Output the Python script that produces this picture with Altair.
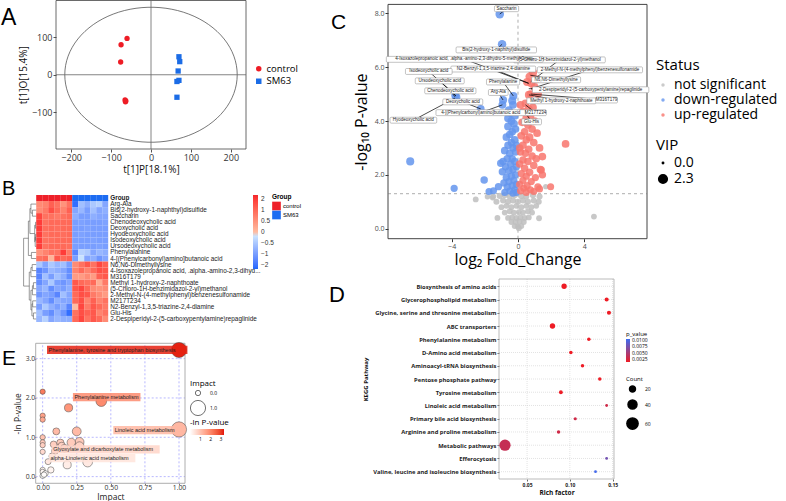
import altair as alt
import pandas as pd

FONT = "Open Sans"
ARIAL = "Liberation Sans"
W, H = 786, 501

# ======================= A: OPLS-DA scores =======================
a_group = ["control"] * 6 + ["SM63"] * 6
a_t1p = [-60, -75, -76, -65, -64, -63, 70, 72, 68, 70, 65, 65]
a_t1o = [97, 80, 34, -67, -72, -70, 48, 35, 10, -15, -18, -60]
a_ellipse = [216, 180]  # semi-axes of the T2 ellipse

# ======================= B: heatmap =======================
b_rows = [
    "Arg-Ala", "Bis(2-hydroxy-1-naphthyl)disulfide", "Saccharin", "Chenodeoxycholic acid",
    "Deoxycholic acid", "Hyodeoxycholic acid", "Isodeoxycholic acid", "Ursodeoxycholic acid",
    "Phenylalanine", "4-[(Phenylcarbonyl)amino]butanoic acid", "N6,N6-Dimethyllysine",
    "4-Isoxazolepropanoic acid, .alpha.-amino-2,3-dihyd...", "M316T179",
    "Methyl 1-hydroxy-2-naphthoate", "(5-Chloro-1H-benzimidazol-2-yl)methanol",
    "2-Methyl-N-(4-methylphenyl)benzenesulfonamide", "M217T234",
    "N2-Benzyl-1,3,5-triazine-2,4-diamine", "Glu-His",
    "2-Despiperidyl-2-(5-carboxypentylamine)repaglinide",
]
b_control = [
    [0.6, 0.7, 1.1, 0.9, 0.5, 0.9], [0.6, 0.8, 1.3, 1.0, 0.7, 1.1], [1.4, 0.9, 0.9, 0.8, 0.9, 1.0],
    [1.5, 0.9, 1.0, 1.0, 1.0, 1.0], [1.5, 0.95, 1.0, 0.95, 1.0, 1.0], [1.5, 0.9, 1.0, 1.0, 0.95, 1.0],
    [1.5, 0.9, 0.95, 1.0, 1.0, 1.0], [1.5, 0.9, 1.0, 1.0, 1.0, 0.95], [0.5, 0.7, 0.9, 0.9, 1.5, 0.8],
    [0.9, 1.0, 0.1, 1.2, 1.0, 1.1], [-0.5, -0.9, -0.5, -0.7, -0.6, -1.0], [-1.3, -1.1, -0.7, -0.8, -0.9, -1.2],
    [-1.3, -0.6, -1.0, -0.6, -0.8, -1.2], [-1.2, -0.9, -0.5, -1.0, -1.1, -0.9], [-0.9, -0.7, -1.2, -0.9, -1.0, -0.8],
    [-1.1, -0.9, -1.0, -1.3, -0.6, -0.9], [-0.7, -0.9, -1.2, -0.8, -0.9, -0.9], [-1.0, -0.5, -0.8, -1.0, -0.8, -1.3],
    [-0.6, -1.0, -1.2, -0.8, -1.1, -1.6], [-0.7, -0.4, -0.9, -0.7, -0.8, -0.8],
]
b_sm63 = [
    [-1.6, -0.6, -0.8, -0.5, -0.4, -0.9], [-0.9, -0.7, -1.0, -0.6, -0.9, -0.8], [-0.8, -1.0, -1.0, -0.8, -0.9, -0.9],
    [-1.0, -0.95, -1.0, -1.0, -1.0, -0.95], [-1.0, -1.0, -0.95, -1.0, -1.0, -1.0], [-1.0, -0.95, -1.0, -1.0, -1.0, -1.0],
    [-1.0, -1.0, -1.0, -0.95, -1.0, -1.0], [-1.0, -1.0, -1.0, -1.0, -0.95, -1.0], [-1.3, -0.4, -0.5, -0.9, -0.7, -0.8],
    [-1.0, -0.2, -0.9, -0.8, -1.1, -0.9], [0.6, 0.9, 1.2, 0.9, 1.4, 1.1], [0.7, 1.0, 0.7, 1.0, 1.3, 1.2],
    [0.4, 0.4, 0.6, 0.4, 1.1, 1.2], [1.2, 1.0, 0.9, 1.0, 0.2, 0.8], [1.2, 1.4, 1.0, 0.6, 0.5, 0.6],
    [1.0, 1.3, 1.2, 0.8, 0.6, 0.4], [1.0, 1.3, 0.7, 1.1, 0.7, 0.9], [0.0, 1.4, 0.8, 1.2, 1.0, 0.8],
    [0.9, 1.3, 1.1, 1.2, 0.7, 0.9], [1.0, 1.4, 0.9, 1.2, 1.0, 0.6],
]
# row dendrogram: (child a, child b, height); leaves 0..19, merges numbered from 20
b_merges = [
    (3, 4, 0.05), (5, 6, 0.05), (7, 21, 0.08), (20, 22, 0.12), (1, 2, 0.30), (0, 24, 0.42),
    (25, 23, 0.50), (8, 9, 0.38), (26, 27, 0.62), (10, 11, 0.32), (29, 12, 0.42), (13, 14, 0.22),
    (31, 15, 0.30), (16, 17, 0.28), (18, 19, 0.22), (33, 34, 0.34), (32, 35, 0.42), (30, 36, 0.55),
    (28, 37, 1.00),
]

# ======================= C: volcano =======================
c_ns = [
    (-1.50, 1.20, 1.1), (-1.10, 1.22, 1.1), (-0.80, 1.25, 1.2), (-0.50, 1.20, 1.1), (-0.20, 1.25, 1.2),
    (0.20, 1.22, 1.2), (0.50, 1.20, 1.1), (0.90, 1.25, 1.2), (1.30, 1.20, 1.1), (-1.30, 1.00, 1.1),
    (-0.90, 1.05, 1.1), (-0.60, 1.00, 1.1), (-0.30, 1.05, 1.1), (0.00, 1.00, 1.1), (0.30, 1.05, 1.1),
    (0.60, 1.00, 1.1), (0.95, 1.05, 1.1), (1.25, 1.00, 1.1), (-1.00, 0.80, 1.0), (-0.70, 0.85, 1.0),
    (-0.40, 0.80, 1.0), (-0.10, 0.85, 1.0), (0.20, 0.80, 1.0), (0.50, 0.85, 1.0), (0.80, 0.80, 1.0),
    (1.10, 0.85, 1.0), (-0.80, 0.60, 1.0), (-0.50, 0.65, 1.0), (-0.25, 0.60, 1.0), (0.05, 0.62, 1.0),
    (0.30, 0.60, 1.0), (0.60, 0.65, 1.0), (0.85, 0.60, 1.0), (-0.60, 0.40, 1.0), (-0.35, 0.42, 1.0),
    (-0.10, 0.40, 1.0), (0.15, 0.42, 1.0), (0.40, 0.40, 1.0), (0.65, 0.42, 1.0), (-0.40, 0.25, 1.0),
    (-0.15, 0.25, 1.0), (0.10, 0.27, 1.0), (0.35, 0.25, 1.0), (-0.20, 0.10, 1.0), (0.00, 0.08, 1.0),
    (0.20, 0.10, 1.0), (0.05, 0.02, 1.0), (-2.55, 1.09, 1.0), (-1.24, 0.40, 1.0), (4.58, 0.45, 1.0),
    (1.27, 0.39, 1.0), (1.67, 1.56, 0.8), (-1.84, 1.19, 0.9), (-1.53, 1.15, 0.9),
]
c_down = [
    (-6.50, 2.50, 2.0), (-3.85, 1.50, 1.6), (-2.04, 1.81, 1.7), (-1.75, 1.38, 1.5), (-1.48, 1.41, 1.5),
    (-1.18, 1.56, 1.6), (-0.94, 2.12, 1.7), (-1.04, 2.43, 1.7), (-1.10, 7.97, 2.3), (-0.96, 6.85, 2.2),
    (-3.78, 4.95, 2.0), (-3.72, 4.88, 2.0), (-2.25, 4.45, 1.9), (-0.28, 4.93, 2.0), (-0.90, 4.78, 2.0),
    (-0.94, 4.60, 1.9), (-0.35, 4.75, 2.0), (-0.30, 4.60, 1.9), (-0.45, 4.30, 1.9), (-0.20, 4.20, 1.9),
    (-0.55, 4.40, 1.9), (-0.40, 4.00, 1.9), (-0.25, 3.90, 1.8), (-0.60, 3.80, 1.9), (-0.15, 3.70, 1.8),
    (-0.35, 3.60, 1.8), (-0.50, 3.50, 1.8), (-0.70, 3.40, 1.8), (-0.20, 3.30, 1.8), (-0.40, 3.20, 1.8),
    (-0.60, 3.10, 1.8), (-0.30, 3.00, 1.8), (-0.80, 2.90, 1.8), (-0.15, 2.85, 1.7), (-0.50, 2.80, 1.8),
    (-0.35, 2.60, 1.7), (-0.65, 2.60, 1.7), (-0.90, 2.50, 1.7), (-0.20, 2.50, 1.7), (-0.45, 2.40, 1.7),
    (-0.75, 2.30, 1.7), (-0.30, 2.20, 1.7), (-0.55, 2.15, 1.7), (-0.15, 2.00, 1.6), (-0.40, 1.95, 1.7),
    (-0.70, 1.90, 1.7), (-0.25, 1.80, 1.6), (-0.55, 1.75, 1.6), (-0.85, 1.70, 1.6), (-0.10, 1.65, 1.6),
    (-0.35, 1.60, 1.6), (-0.65, 1.55, 1.6), (-0.20, 1.45, 1.5), (-0.50, 1.40, 1.5), (-0.80, 1.35, 1.5),
    (-0.10, 1.35, 1.5), (-0.30, 1.32, 1.5), (-0.10, 3.10, 1.7), (-0.10, 2.30, 1.6), (-0.60, 4.10, 1.9),
]
c_up = [
    (0.90, 5.80, 2.2), (0.70, 5.65, 2.1), (1.10, 5.55, 2.1), (0.80, 5.40, 2.0), (1.00, 5.25, 2.0),
    (0.55, 5.45, 2.0), (1.20, 5.00, 2.0), (0.66, 4.97, 2.0), (0.77, 5.00, 1.9), (0.45, 4.65, 1.9),
    (0.65, 4.45, 1.9), (0.90, 4.50, 1.9), (0.30, 4.35, 1.9), (0.75, 4.20, 1.9), (0.50, 4.10, 1.9),
    (1.00, 4.00, 1.8), (0.25, 3.95, 1.8), (0.60, 3.85, 1.8), (0.85, 3.70, 1.8), (0.40, 3.60, 1.8),
    (1.15, 3.55, 1.8), (0.20, 3.45, 1.8), (0.70, 3.40, 1.8), (0.50, 3.30, 1.8), (0.95, 3.20, 1.8),
    (0.30, 3.10, 1.8), (1.30, 3.00, 1.8), (0.65, 2.95, 1.7), (0.15, 2.85, 1.7), (0.45, 2.80, 1.7),
    (0.85, 2.70, 1.7), (1.10, 2.60, 1.7), (0.30, 2.55, 1.7), (0.60, 2.50, 1.7), (0.10, 2.40, 1.7),
    (0.95, 2.35, 1.7), (0.40, 2.25, 1.7), (1.35, 2.20, 1.7), (0.70, 2.10, 1.7), (0.20, 2.05, 1.6),
    (0.50, 1.95, 1.6), (1.05, 1.90, 1.6), (0.30, 1.80, 1.6), (0.80, 1.75, 1.6), (0.10, 1.65, 1.6),
    (0.55, 1.60, 1.6), (1.20, 1.55, 1.6), (0.35, 1.50, 1.5), (0.75, 1.45, 1.5), (0.15, 1.40, 1.5),
    (0.50, 1.35, 1.5), (0.95, 1.38, 1.5), (2.87, 3.15, 1.8), (1.97, 1.56, 1.5), (1.47, 2.68, 1.8),
    (1.40, 2.18, 1.7), (1.47, 2.00, 1.7), (1.30, 1.48, 1.5), (0.10, 3.00, 1.7), (0.15, 4.60, 1.9),
]
c_lab_text = [
    "(5-Chloro-1H-benzimidazol-2-yl)methanol", "Saccharin", "Bis(2-hydroxy-1-naphthyl)disulfide",
    "4-Isoxazolepropanoic acid, .alpha.-amino-2,3-dihydro-5-methyl-3-oxo-",
    "N2-Benzyl-1,3,5-triazine-2,4-diamine", "2-Methyl-N-(4-methylphenyl)benzenesulfonamide",
    "N6,N6-Dimethyllysine", "Phenylalanine", "Arg-Ala",
    "2-Despiperidyl-2-(5-carboxypentylamine)repaglinide", "Methyl 1-hydroxy-2-naphthoate",
    "M316T179", "M217T234", "Glu-His", "Isodeoxycholic acid", "Ursodeoxycholic acid",
    "Chenodeoxycholic acid", "Deoxycholic acid", "4-[(Phenylcarbonyl)amino]butanoic acid",
    "Hyodeoxycholic acid",
]
c_lab_x = [2.50, -0.69, -1.31, -3.21, -1.49, 4.34, 2.30, -0.90, -1.19, 4.38, 2.62, 5.34, 1.05, 0.82,
           -5.38, -4.72, -4.08, -3.33, -2.25, -6.31]
c_lab_y = [6.27, 8.17, 6.64, 6.29, 5.93, 5.90, 5.53, 5.45, 5.06, 5.16, 4.75, 4.78, 4.31, 3.97,
           5.84, 5.49, 5.12, 4.71, 4.31, 4.03]
c_pt_x = [0.77, -1.10, -0.96, 0.63, 0.65, 0.80, 0.75, -0.28, -0.90, 0.65, 0.66, 0.77, 0.45, 0.45,
          -3.75, -3.75, -3.80, -2.25, -0.94, -3.80]
c_pt_y = [5.46, 7.97, 6.85, 5.40, 5.40, 5.20, 5.70, 4.93, 4.78, 5.20, 4.97, 5.00, 4.60, 4.30,
          4.94, 4.94, 4.90, 4.45, 4.60, 4.85]

# ======================= D: KEGG enrichment =======================
d_paths = [
    "Biosynthesis of amino acids", "Glycerophospholipid metabolism",
    "Glycine, serine and threonine metabolism", "ABC transporters", "Phenylalanine metabolism",
    "D-Amino acid metabolism", "Aminoacyl-tRNA biosynthesis", "Pentose phosphate pathway",
    "Tyrosine metabolism", "Linoleic acid metabolism", "Primary bile acid biosynthesis",
    "Arginine and proline metabolism", "Metabolic pathways", "Efferocytosis",
    "Valine, leucine and isoleucine biosynthesis",
]
d_rich = [0.0933, 0.1430, 0.1457, 0.0797, 0.1222, 0.1012, 0.1148, 0.1350, 0.0895, 0.1430, 0.1063,
          0.0868, 0.0242, 0.1430, 0.1300]
d_count = [17, 12, 12, 17, 10, 10, 10, 10, 11, 8, 9, 10, 60, 8, 8]
d_p = [0.0008, 0.0010, 0.0010, 0.0008, 0.0012, 0.0012, 0.0014, 0.0015, 0.0016, 0.0030, 0.0030,
       0.0030, 0.0035, 0.0075, 0.0099]
d_xticks = [0.05, 0.10, 0.15]

# ======================= E: pathway impact =======================
e_impact = [1.00, 0.43, 0.19, 0.00, 0.00, 0.00, 1.00, 0.10, 0.25, 0.00, 0.00, 0.00, 0.27, 0.21,
            0.13, 0.08, 0.14, 0.27, 0.16, 0.09, 0.00, 0.07, 0.04, 0.18, 0.33, 0.06, 0.00, 0.00,
            0.02, 0.00, 0.01]
e_nlp = [3.22, 1.92, 1.75, 2.16, 1.55, 1.45, 1.20, 1.15, 1.15, 1.00, 0.87, 0.80, 0.88, 0.87,
         0.86, 0.82, 0.78, 0.77, 0.72, 0.65, 0.63, 0.52, 0.38, 0.30, 0.37, 0.17, 0.17, 0.12,
         0.08, 0.02, 0.05]
e_lab_text = ["Phenylalanine, tyrosine and tryptophan biosynthesis", "Phenylalanine metabolism",
              "Linoleic acid metabolism", "Glyoxylate and dicarboxylate metabolism",
              "alpha-Linolenic acid metabolism"]
e_lab_x = [0.032, 0.222, 0.518, 0.066, 0.046]
e_lab_y = [3.22, 2.02, 1.18, 0.69, 0.47]
e_lab_val = [3.22, 1.92, 1.20, 0.70, 0.45]
e_xticks = [0, 0.25, 0.5, 0.75, 1]
e_yticks = [0, 1, 2, 3]


def letter(ch, x, y, size):
    return alt.Chart(pd.DataFrame({"k": [0]})).mark_text(
        text=ch, font=ARIAL, fontSize=size, align="left", baseline="alphabetic", color="black"
    ).encode(x=alt.value(x), y=alt.value(y))


ONE = pd.DataFrame({"k": [0]})


def frame(xs, ys, xd, yd, color, width):
    return alt.Chart(ONE).mark_rect(fillOpacity=0, stroke=color, strokeWidth=width).encode(
        x=alt.X(datum=xd[0], scale=xs), x2=alt.X2(datum=xd[1]),
        y=alt.Y(datum=yd[0], scale=ys), y2=alt.Y2(datum=yd[1]))


# ----------------------------- panel A -----------------------------
dfA = pd.DataFrame({"group": a_group, "t1p": a_t1p, "t1o": a_t1o})
A_XD, A_YD = [-238, 238], [-198, 198]
xA = alt.Scale(domain=A_XD, range=[56, 246], nice=False, zero=False)
yA = alt.Scale(domain=A_YD, range=[149, 0.5], nice=False, zero=False)
axA = dict(grid=False, domain=False, labelFont=FONT, labelFontSize=9, labelColor="#333",
           titleFont=FONT, titleFontSize=10, titleFontWeight="normal", titleColor="#111",
           tickColor="#555", tickSize=3, labelPadding=1, labelFlush=False)
axAx = alt.Axis(values=[-200, -100, 0, 100, 200], title="t[1]P[18.1%]", titlePadding=2,
                orient="bottom", offset=149 - H, **axA)
axAy = alt.Axis(values=[-100, 0, 100], title="t[1]O[15.4%]", titlePadding=3, orient="left",
                offset=-56, **axA)
a_leg = alt.Legend(title=None, orient="none", legendX=254, legendY=64, labelFont=FONT,
                   labelFontSize=9.5, symbolSize=30, labelOffset=3, rowPadding=1.5)
a_ell = (alt.Chart(alt.sequence(0, 361, 4, as_="t"))
         .transform_calculate(ex=f"{a_ellipse[0]}*cos(datum.t*PI/180)",
                              ey=f"{a_ellipse[1]}*sin(datum.t*PI/180)")
         .mark_line(color="#555", strokeWidth=0.8)
         .encode(x=alt.X("ex:Q", scale=xA, axis=axAx), y=alt.Y("ey:Q", scale=yA, axis=axAy),
                 order="t:Q"))
a_cross = pd.DataFrame({"x1": [0, A_XD[0]], "x2": [0, A_XD[1]], "y1": [A_YD[0], 0], "y2": [A_YD[1], 0]})
a_lines = alt.Chart(a_cross).mark_rule(color="#666", strokeWidth=0.8).encode(
    x=alt.X("x1:Q", scale=xA, axis=axAx), x2="x2:Q", y=alt.Y("y1:Q", scale=yA, axis=axAy), y2="y2:Q")
a_pts = alt.Chart(dfA).mark_point(filled=True, opacity=1, size=28).encode(
    x=alt.X("t1p:Q", scale=xA, axis=axAx),
    y=alt.Y("t1o:Q", scale=yA, axis=axAy),
    color=alt.Color("group:N", scale=alt.Scale(domain=["control", "SM63"], range=["#EE1C25", "#1B6CE6"]),
                    legend=a_leg),
    shape=alt.Shape("group:N", scale=alt.Scale(domain=["control", "SM63"], range=["circle", "square"]),
                    legend=a_leg),
)
panelA = alt.layer(frame(xA, yA, A_XD, A_YD, "#444", 0.8), a_ell, a_lines, a_pts, letter("A", 1, 25, 23))

# ----------------------------- panel B -----------------------------
heat = []
for i, name in enumerate(b_rows):
    for j, v in enumerate(b_control[i] + b_sm63[i]):
        heat.append({"row": name, "c": j, "r": i + 1, "v": v})
dfHeat = pd.DataFrame(heat)
dfGroup = pd.DataFrame({"c": list(range(12)), "g": ["control"] * 6 + ["SM63"] * 6, "r": [0] * 12})
dfLab = pd.DataFrame({"name": b_rows, "ry": [i + 1.5 for i in range(20)], "lx": [12] * 20})
pos = {i: (0.0, i + 1.5) for i in range(20)}
segs = []
for k, (a, b, h) in enumerate(b_merges):
    ha, ya = pos[a]
    hb, yb = pos[b]
    segs += [(ha, h, ya, ya), (hb, h, yb, yb), (h, h, ya, yb)]
    pos[20 + k] = (h, (ya + yb) / 2)
dfSeg = pd.DataFrame(segs, columns=["h1", "h2", "y1", "y2"])

xB = alt.Scale(domain=[-2.2, 12], range=[23, 108.2], nice=False, zero=False)
yB = alt.Scale(domain=[0, 21], range=[195, 322], nice=False, zero=False)
b_heat = alt.Chart(dfHeat).transform_calculate(c2="datum.c+1", r2="datum.r+1").mark_rect().encode(
    x=alt.X("c:Q", scale=xB, axis=None), x2="c2:Q",
    y=alt.Y("r:Q", scale=yB, axis=None), y2="r2:Q",
    color=alt.Color("v:Q", scale=alt.Scale(domain=[-1.7, 0, 1.7], range=["#1f66f6", "#ffffff", "#f0262c"]),
                    legend=alt.Legend(title=None, orient="none", legendX=253, legendY=195, gradientLength=74,
                                      gradientThickness=5, values=[-1.5, -1, -0.5, 0, 0.5, 1, 1.5],
                                      format="~g", labelOverlap=False, labelFont=ARIAL, labelFontSize=6.5,
                                      labelColor="#333", labelOffset=3)))
b_grp = alt.Chart(dfGroup).transform_calculate(c2="datum.c+1", r2="datum.r+1").mark_rect().encode(
    x=alt.X("c:Q", scale=xB, axis=None), x2="c2:Q",
    y=alt.Y("r:Q", scale=yB, axis=None), y2="r2:Q",
    color=alt.Color("g:N", scale=alt.Scale(domain=["control", "SM63"], range=["#EE2029", "#1D6CF2"]),
                    legend=alt.Legend(title="Group", orient="none", legendX=272, legendY=194,
                                      titleFont=ARIAL, titleFontSize=6.5, titleFontWeight="bold",
                                      labelFont=ARIAL, labelFontSize=6, symbolType="square",
                                      symbolSize=75, symbolStrokeWidth=0, rowPadding=0,
                                      labelOffset=2, titlePadding=1)))
b_den = alt.Chart(dfSeg).transform_calculate(xa="-datum.h1*2.1", xb="-datum.h2*2.1").mark_rule(
    color="#555", strokeWidth=0.6).encode(
    x=alt.X("xa:Q", scale=xB, axis=None), x2="xb:Q",
    y=alt.Y("y1:Q", scale=yB, axis=None), y2="y2:Q")
b_lab = alt.Chart(dfLab).mark_text(align="left", baseline="middle", dx=2, font=ARIAL, fontSize=6.4,
                                   color="#222").encode(
    x=alt.X("lx:Q", scale=xB, axis=None), y=alt.Y("ry:Q", scale=yB, axis=None), text="name:N")
b_glab = alt.Chart(pd.DataFrame({"t": ["Group"], "lx": [12], "ry": [0.5]})).mark_text(
    align="left", baseline="middle", dx=2, font=ARIAL, fontSize=6.4, fontWeight="bold", color="#222"
).encode(x=alt.X("lx:Q", scale=xB, axis=None), y=alt.Y("ry:Q", scale=yB, axis=None), text="t:N")
panelB = alt.layer(b_heat, b_grp, b_den, b_lab, b_glab, letter("B", 2, 195, 20)).resolve_scale(
    color="independent")

# ----------------------------- panel C -----------------------------
rows = [("ns", *p) for p in c_ns] + [("d", *p) for p in c_down] + [("u", *p) for p in c_up]
dfC = pd.DataFrame(rows, columns=["src", "fc", "lp", "vip"])
C_XD, C_YD = [-7.84, 7.78], [-0.37, 8.33]
xC = alt.Scale(domain=C_XD, range=[388, 647], nice=False, zero=False)
yC = alt.Scale(domain=C_YD, range=[238.7, 4.4], nice=False, zero=False)
axC = dict(grid=False, domain=False, labelFont=FONT, labelFontSize=7, labelColor="#4d4d4d",
           tickColor="#333", tickSize=3, labelPadding=1, titleFont=FONT, titleFontSize=16,
           titleFontWeight="normal", titleColor="black", labelFlush=False)
axCx = alt.Axis(values=[-4, 0, 4], title="log\u2082 Fold_Change", titlePadding=2, orient="bottom",
                offset=238.7 - H, **axC)
axCy = alt.Axis(values=[0, 2, 4, 6, 8], title="-log\u2081\u2080 P-value", titlePadding=5, orient="left",
                offset=-388, **axC)
c_thr = pd.DataFrame({"x1": [C_XD[0], 0], "x2": [C_XD[1], 0], "y1": [1.301, C_YD[0]], "y2": [1.301, C_YD[1]]})
c_thrl = alt.Chart(c_thr).mark_rule(color="#777", strokeWidth=0.6, strokeDash=[3, 3]).encode(
    x=alt.X("x1:Q", scale=xC, axis=axCx), x2="x2:Q", y=alt.Y("y1:Q", scale=yC, axis=axCy), y2="y2:Q")
c_pts = alt.Chart(dfC).transform_calculate(
    status="(datum.lp > 1.301 && datum.vip >= 1) ? (datum.fc < 0 ? 'down-regulated' : 'up-regulated') : 'not significant'"
).mark_circle(opacity=0.85).encode(
    x=alt.X("fc:Q", scale=xC, axis=axCx),
    y=alt.Y("lp:Q", scale=yC, axis=axCy),
    color=alt.Color("status:N", scale=alt.Scale(domain=["not significant", "down-regulated", "up-regulated"],
                                                range=["#BEBEBE", "#6495ED", "#F8766D"]),
                    legend=alt.Legend(title="Status", orient="none", legendX=656, legendY=58,
                                      titleFont=FONT, titleFontSize=15, titleFontWeight="normal",
                                      labelFont=FONT, labelFontSize=14, symbolSize=12, symbolOpacity=0.8,
                                      rowPadding=1, labelOffset=4, titlePadding=5)),
    size=alt.Size("vip:Q", scale=alt.Scale(domain=[0, 2.3], range=[2, 75], zero=False),
                  legend=alt.Legend(title="VIP", orient="none", legendX=656, legendY=138, values=[0.0, 2.3],
                                    format=".1f", titleFont=FONT, titleFontSize=15, titleFontWeight="normal",
                                    labelFont=FONT, labelFontSize=14, symbolFillColor="black",
                                    symbolStrokeColor="black", symbolOpacity=1, rowPadding=1,
                                    labelOffset=4, titlePadding=3)),
)
dfCL = pd.DataFrame({"t": c_lab_text, "lx": c_lab_x, "ly": c_lab_y, "px": c_pt_x, "py": c_pt_y})
c_lines = alt.Chart(dfCL).mark_rule(color="black", strokeWidth=0.7).encode(
    x=alt.X("px:Q", scale=xC, axis=axCx), x2="lx:Q", y=alt.Y("py:Q", scale=yC, axis=axCy), y2="ly:Q")
c_box = alt.Chart(dfCL).transform_calculate(
    bx1="datum.lx - length(datum.t)*0.0678 - 0.12", bx2="datum.lx + length(datum.t)*0.0678 + 0.12",
    by1="datum.ly - 0.11", by2="datum.ly + 0.11"
).mark_rect(fill="white", stroke="#888", strokeWidth=0.5, cornerRadius=1).encode(
    x=alt.X("bx1:Q", scale=xC, axis=axCx), x2="bx2:Q", y=alt.Y("by1:Q", scale=yC, axis=axCy), y2="by2:Q")
c_txt = alt.Chart(dfCL).mark_text(font=ARIAL, fontSize=4.5, color="#222", baseline="middle").encode(
    x=alt.X("lx:Q", scale=xC, axis=axCx), y=alt.Y("ly:Q", scale=yC, axis=axCy), text="t:N")
panelC = alt.layer(frame(xC, yC, C_XD, C_YD, "#444", 1), c_thrl, c_pts, c_lines, c_box, c_txt,
                   letter("C", 331, 29, 21))

# ----------------------------- panel D -----------------------------
dfD = pd.DataFrame({"path": d_paths, "rich": d_rich, "count": d_count, "p": d_p})
D_XD = [0.0172, 0.1516]
xD = alt.Scale(domain=D_XD, range=[499, 614], nice=False, zero=False)
yD = alt.Scale(type="point", padding=0.55, range=[279, 479])
axD = dict(grid=False, domain=False, tickColor="#666", tickSize=2, labelFont=FONT, labelFontWeight="bold",
           labelColor="#222", titleFont=FONT, titleFontWeight="bold", titleColor="#111", labelFlush=False)
axDx = alt.Axis(values=d_xticks, format=".2f", title="Rich factor", labelFontSize=5,
                titleFontSize=6.5, labelPadding=1, titlePadding=2, orient="bottom", offset=479 - H, **axD)
axDy = alt.Axis(title="KEGG Pathway", labelFontSize=5.8, titleFontSize=6, labelPadding=1,
                titlePadding=4, labelLimit=300, orient="left", offset=-499, **axD)
GRID_D = dict(color="#d0d0d0", strokeDash=[1, 1], strokeWidth=0.6)
d_vgrid = alt.Chart(pd.DataFrame({"gx": d_xticks})).mark_rule(**GRID_D).encode(
    x=alt.X("gx:Q", scale=xD, axis=axDx), y=alt.value(279), y2=alt.value(479))
d_hgrid = alt.Chart(pd.DataFrame({"path": d_paths})).mark_rule(**GRID_D).encode(
    y=alt.Y("path:N", sort=d_paths, scale=yD, axis=axDy),
    x=alt.X(datum=D_XD[0], scale=xD, axis=axDx), x2=alt.X2(datum=D_XD[1]))
d_pts = alt.Chart(dfD).mark_circle(opacity=1).encode(
    x=alt.X("rich:Q", scale=xD, axis=axDx),
    y=alt.Y("path:N", sort=d_paths, scale=yD, axis=axDy),
    color=alt.Color("p:Q", scale=alt.Scale(domain=[0.0015, 0.0102], range=["#EE1C25", "#3D6CF2"],
                                           interpolate="rgb", clamp=True),
                    legend=alt.Legend(title="p_value", orient="none", legendX=626, legendY=331,
                                      titleFont=FONT, titleFontSize=6, titleFontWeight="normal",
                                      labelFont=FONT, labelFontSize=5, gradientLength=23,
                                      gradientThickness=4, values=[0.0025, 0.005, 0.0075, 0.01],
                                      format=".4f", labelOverlap=False, titlePadding=2, labelOffset=2)),
    size=alt.Size("count:Q", scale=alt.Scale(domain=[5, 65], range=[1, 138], zero=False),
                  legend=alt.Legend(title="Count", orient="none", legendX=626, legendY=376, values=[20, 40, 60],
                                    titleFont=FONT, titleFontSize=6, titleFontWeight="normal",
                                    labelFont=FONT, labelFontSize=5, symbolFillColor="black",
                                    symbolStrokeColor="black", symbolType="circle", labelOffset=6,
                                    rowPadding=2, titlePadding=3)),
)
d_frame = alt.Chart(ONE).mark_rect(fillOpacity=0, stroke="#aaa", strokeWidth=0.8).encode(
    x=alt.X(datum=D_XD[0], scale=xD), x2=alt.X2(datum=D_XD[1]), y=alt.value(279), y2=alt.value(479))
panelD = alt.layer(d_vgrid, d_hgrid, d_frame, d_pts, letter("D", 329, 302, 22))

# ----------------------------- panel E -----------------------------
dfE = pd.DataFrame({"impact": e_impact, "nlp": e_nlp})
E_XD, E_YD = [-0.051, 1.044], [-0.17, 3.39]
xE = alt.Scale(domain=E_XD, range=[35.7, 185], nice=False, zero=False)
yE = alt.Scale(domain=E_YD, range=[483.3, 343.3], nice=False, zero=False)
axE = dict(domain=False, grid=False, labelFont=FONT, labelFontSize=6.8, labelColor="#333",
           tickColor="#555", tickSize=1, labelPadding=0, titleFont=FONT, titleFontSize=8.5,
           titleFontWeight="normal", titleColor="#222", labelFlush=False)
axEx = alt.Axis(values=e_xticks, format=".2f", title="Impact", titlePadding=1.5,
                orient="bottom", offset=483.3 - H, **axE)
axEy = alt.Axis(values=e_yticks, title="-ln P-value", titlePadding=3, orient="left", offset=-35.7, **axE)
GRID_E = dict(color="#9a9aff", strokeDash=[2, 2], strokeWidth=0.7)
e_vgrid = alt.Chart(pd.DataFrame({"gx": e_xticks})).mark_rule(**GRID_E).encode(
    x=alt.X("gx:Q", scale=xE, axis=axEx), y=alt.Y(datum=E_YD[0], scale=yE, axis=axEy),
    y2=alt.Y2(datum=E_YD[1]))
e_hgrid = alt.Chart(pd.DataFrame({"gy": e_yticks})).mark_rule(**GRID_E).encode(
    y=alt.Y("gy:Q", scale=yE, axis=axEy), x=alt.X(datum=E_XD[0], scale=xE, axis=axEx),
    x2=alt.X2(datum=E_XD[1]))
e_col = alt.Scale(domain=[0, 3.3], range=["#ffffff", "#e3120b"], interpolate="lab")
e_leg = alt.Legend(title="-ln P-value", orient="none", legendX=190, legendY=419, direction="horizontal",
                   gradientLength=34, gradientThickness=6, values=[1, 2, 3], titleFont=FONT,
                   titleFontSize=8, titleFontWeight="normal", labelFont=FONT, labelFontSize=5,
                   titlePadding=2)
e_pts = alt.Chart(dfE).mark_circle(opacity=1, stroke="#444", strokeWidth=0.5).encode(
    x=alt.X("impact:Q", scale=xE, axis=axEx),
    y=alt.Y("nlp:Q", scale=yE, axis=axEy),
    color=alt.Color("nlp:Q", scale=e_col, legend=e_leg),
    size=alt.Size("impact:Q", scale=alt.Scale(domain=[0, 1], range=[28, 230]),
                  legend=alt.Legend(title="Impact", orient="none", legendX=190, legendY=380, values=[0, 1],
                                    titleFont=FONT, titleFontSize=8, titleFontWeight="normal",
                                    labelFont=FONT, labelFontSize=5, symbolFillColor="white",
                                    symbolStrokeColor="#333", symbolStrokeWidth=0.7, rowPadding=1,
                                    labelOffset=4, titlePadding=2)),
)
dfEL = pd.DataFrame({"t": e_lab_text, "lx": e_lab_x, "ly": e_lab_y, "nlp": e_lab_val})
e_box = alt.Chart(dfEL).transform_calculate(
    bx2="datum.lx + length(datum.t)*0.0198 + 0.02", by1="datum.ly - 0.105", by2="datum.ly + 0.105"
).mark_rect(opacity=0.85).encode(
    x=alt.X("lx:Q", scale=xE, axis=axEx), x2="bx2:Q", y=alt.Y("by1:Q", scale=yE, axis=axEy), y2="by2:Q",
    color=alt.Color("nlp:Q", scale=e_col, legend=e_leg))
e_txt = alt.Chart(dfEL).mark_text(font=ARIAL, fontSize=5.5, color="#222", align="left", baseline="middle",
                                  dx=1.5).encode(
    x=alt.X("lx:Q", scale=xE, axis=axEx), y=alt.Y("ly:Q", scale=yE, axis=axEy), text="t:N")
panelE = alt.layer(e_vgrid, e_hgrid, frame(xE, yE, E_XD, E_YD, "#999", 0.8), e_pts, e_box, e_txt,
                   letter("E", 2, 365, 21))

# ----------------------------- compose -----------------------------
chart = (alt.layer(panelA, panelB, panelC, panelD, panelE)
         .resolve_scale(x="independent", y="independent", color="independent", size="independent",
                        shape="independent")
         .resolve_axis(x="independent", y="independent")
         .properties(width=W, height=H, autosize=alt.AutoSizeParams(type="none"), padding=0)
         .configure(font=FONT)
         .configure_view(stroke="transparent"))

chart.save("out.html", embed_options={"renderer": "svg", "actions": False})
